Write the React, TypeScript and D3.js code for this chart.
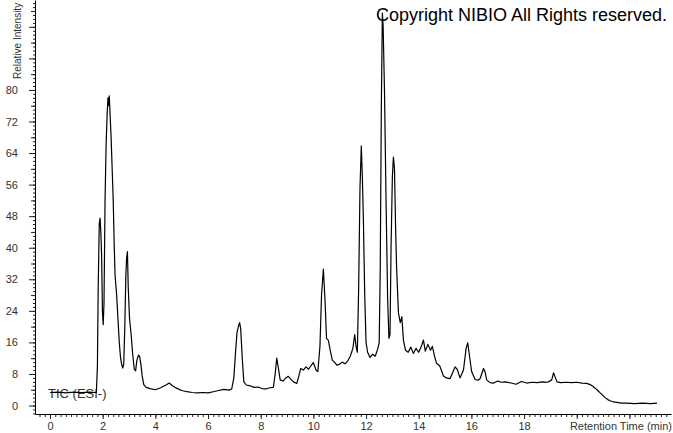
import React, { Component } from "react";
import * as d3 from "d3";

// retention time (min) and relative intensity
const times = [
  0.0, 0.3, 0.6, 0.9, 1.2, 1.5, 1.76, 1.8, 1.83, 1.87, 1.9, 1.93, 1.96, 1.99,
  2.02, 2.05, 2.09, 2.13, 2.17, 2.2, 2.22, 2.25, 2.28, 2.32, 2.36, 2.4, 2.44,
  2.47, 2.53, 2.58, 2.63, 2.68, 2.72, 2.76, 2.8, 2.84, 2.88, 2.91, 2.94, 2.97,
  3.02, 3.08, 3.14, 3.2, 3.25, 3.3, 3.36, 3.4, 3.45, 3.5, 3.56, 3.65, 3.8, 4.0,
  4.2, 4.4, 4.53, 4.65, 4.8, 5.0, 5.2, 5.4, 5.6, 5.8, 6.0, 6.2, 6.4, 6.6, 6.8,
  6.9, 6.98, 7.04, 7.1, 7.16, 7.2, 7.24, 7.3, 7.36, 7.45, 7.6, 7.75, 7.9, 8.05,
  8.2, 8.35, 8.48, 8.55, 8.61, 8.66, 8.74, 8.85, 8.95, 9.05, 9.15, 9.25, 9.37,
  9.45, 9.52, 9.62, 9.72, 9.82, 9.92, 10.0, 10.1, 10.17, 10.25, 10.31, 10.38,
  10.44, 10.5, 10.57, 10.64, 10.72, 10.8, 10.9, 11.0, 11.1, 11.2, 11.3, 11.4,
  11.5, 11.57, 11.62, 11.67, 11.72, 11.77, 11.82, 11.86, 11.9, 11.95, 12.0,
  12.06, 12.15, 12.25, 12.35, 12.45, 12.5, 12.54, 12.58, 12.62, 12.65, 12.7,
  12.76, 12.82, 12.87, 12.91, 12.95, 13.0, 13.04, 13.08, 13.12, 13.16, 13.23,
  13.3, 13.36, 13.42, 13.5, 13.6, 13.7, 13.8, 13.9, 14.0, 14.1, 14.18, 14.25,
  14.35, 14.45, 14.52, 14.6, 14.68, 14.8, 14.94, 15.05, 15.19, 15.3, 15.38,
  15.46, 15.57, 15.7, 15.8, 15.86, 15.92, 16.01, 16.14, 16.25, 16.33, 16.46,
  16.52, 16.58, 16.71, 16.85, 17.0, 17.15, 17.3, 17.5, 17.7, 17.9, 18.1, 18.3,
  18.5, 18.7, 18.9, 19.05, 19.12, 19.18, 19.25, 19.4, 19.6, 19.8, 20.0, 20.2,
  20.38, 20.51, 20.62, 20.7, 20.8, 20.89, 21.0, 21.08, 21.18, 21.27, 21.4,
  21.52, 21.7, 21.9, 22.2, 22.5, 22.8, 23.05,
];

const intensity = [
  3.3, 3.4, 3.2, 3.4, 3.3, 3.4, 3.3, 10, 30, 46, 47.5, 44, 38, 24, 20.5, 26, 52,
  66, 74, 78, 76, 78.5, 74, 68, 60, 52, 40, 33, 28, 22, 16, 12, 10.5, 9.5, 10.5,
  20, 33, 37.5, 39, 30, 22, 18, 13, 9.2, 8.8, 11.5, 12.8, 12.5, 10.5, 7.5, 5.3,
  4.6, 4.3, 4.0, 4.5, 5.2, 5.7, 5.0, 4.4, 3.8, 3.5, 3.3, 3.2, 3.3, 3.2, 3.5,
  3.8, 4.1, 3.9, 4.2, 7, 13, 18.5, 20.2, 21, 19.5, 12, 6, 5.2, 5.0, 4.6, 4.7,
  4.3, 4.2, 4.5, 4.6, 8, 12, 10, 6.5, 6.2, 7.0, 7.4, 6.6, 6.0, 5.6, 7.5, 9.4,
  9.0, 9.8, 9.2, 10.2, 10.9, 9.0, 8.6, 15, 28, 34.6, 27, 17, 16.5, 14, 11.5, 11,
  10.2, 10.5, 11, 10.6, 11.2, 12.5, 14.5, 18, 15, 13.5, 30, 55, 65.8, 58, 47,
  28, 16, 13.5, 12.2, 13.0, 12.5, 14.5, 16, 35, 75, 99.5, 96, 80, 52, 27, 17,
  18, 40, 58, 63, 60, 46, 35, 23.5, 21, 22.5, 16.5, 14, 13.5, 14.8, 13.2, 14.5,
  13.5, 15, 16.6, 13.8, 15.5, 14, 15, 12.5, 10.7, 10, 7.5, 7.0, 6.8, 8.5, 9.8,
  9.2, 7.0, 9.0, 14.5, 15.9, 13, 8.6, 6.6, 6.4, 6.8, 9.4, 8.5, 6.5, 5.8, 5.7,
  6.2, 5.9, 6.0, 5.7, 5.4, 6.1, 5.7, 5.9, 5.8, 6.0, 5.9, 6.5, 8.3, 7.2, 6.0,
  5.8, 5.9, 5.8, 5.9, 5.7, 5.6, 5.3, 4.8, 4.4, 3.8, 3.2, 2.5, 2.0, 1.5, 1.2,
  0.9, 0.8, 0.6, 0.6, 0.5, 0.6, 0.5, 0.6,
];

const xTicks = [0, 2, 4, 6, 8, 10, 12, 14, 16, 18, 20, 22];
const xLabels = ["0", "2", "4", "6", "8", "10", "12", "14", "16", "18", "", ""];
const yTicks = [0, 8, 16, 24, 32, 40, 48, 56, 64, 72, 80];

const FONT = "'Liberation Sans', Arial, sans-serif";

export default class App extends Component {
  canvasRef = React.createRef<SVGSVGElement>();

  render() {
    return (
      <svg
        ref={this.canvasRef}
        width={673}
        height={433}
        style={{ position: "absolute", left: 0, top: 0, background: "#fff" }}
      ></svg>
    );
  }

  componentDidMount() {
    this.drawChart();
  }

  drawChart() {
    const svg = d3.select(this.canvasRef.current);
    svg.selectAll("*").remove();

    /* Scales */
    const x = d3.scaleLinear().domain([-0.57, 23.58]).range([35, 671]);
    const y = d3.scaleLinear().domain([-2.15, 102.8]).range([414, 0]);

    // minor ticks first, majors on top
    const xMinor = d3.range(-0.4, 23.5, 0.2).map((d) => Math.round(d * 10) / 10);
    const yMinor = d3.range(-2, 103, 1);

    svg
      .append("g")
      .attr("transform", "translate(0,414)")
      .call(d3.axisBottom(x).tickValues(xMinor).tickSize(3).tickFormat(() => ""))
      .call((g) => g.select(".domain").remove());

    svg
      .append("g")
      .attr("transform", "translate(35,0)")
      .call(d3.axisLeft(y).tickValues(yMinor).tickSize(2).tickFormat(() => ""))
      .call((g) => g.select(".domain").remove());

    svg
      .append("g")
      .attr("transform", "translate(35,0)")
      .call(
        d3.axisLeft(y).tickValues(d3.range(4, 103, 8)).tickSize(4).tickFormat(() => "")
      )
      .call((g) => g.select(".domain").remove());

    const xAxisGroup = svg
      .append("g")
      .attr("transform", "translate(0,414)")
      .call(
        d3
          .axisBottom(x)
          .tickValues(xTicks)
          .tickSize(5)
          .tickSizeOuter(0)
          .tickPadding(3)
          .tickFormat((d, i) => xLabels[i])
      );

    const yAxisGroup = svg
      .append("g")
      .attr("transform", "translate(35,0)")
      .call(
        d3
          .axisLeft(y)
          .tickValues(yTicks.concat([88, 96]))
          .tickSize(6)
          .tickSizeOuter(0)
          .tickPadding(11)
          .tickFormat((d) => (+d <= 80 ? String(d) : ""))
      );

    [xAxisGroup, yAxisGroup].forEach((g) => {
      g.selectAll("text")
        .attr("font-family", FONT)
        .attr("font-size", 11)
        .attr("fill", "#333");
    });

    svg.selectAll("g line").attr("stroke", "#222");
    xAxisGroup.select(".domain").attr("stroke", "#000");
    yAxisGroup.select(".domain").attr("stroke", "#000");

    // axis titles
    svg
      .append("text")
      .attr("transform", "translate(21,79) rotate(-90)")
      .attr("font-family", FONT)
      .attr("font-size", 10)
      .attr("fill", "#333")
      .text("Relative Intensity");

    svg
      .append("text")
      .attr("x", 672)
      .attr("y", 430)
      .attr("text-anchor", "end")
      .attr("font-family", FONT)
      .attr("font-size", 11)
      .attr("fill", "#333")
      .text("Retention Time (min)");

    svg
      .append("text")
      .attr("x", 48)
      .attr("y", 398)
      .attr("font-family", FONT)
      .attr("font-size", 13)
      .attr("fill", "#333")
      .text("TIC (ESI-)");

    // D3 Line path Generator
    const line = d3
      .line<number>()
      .x((d, i) => x(times[i]))
      .y((d) => y(d));

    svg
      .append("path")
      .datum(intensity)
      .attr("fill", "none")
      .attr("stroke", "#000")
      .attr("stroke-width", 1.2)
      .attr("stroke-linejoin", "round")
      .attr("d", line);

    svg
      .append("text")
      .attr("x", 376)
      .attr("y", 20.5)
      .attr("font-family", FONT)
      .attr("font-size", 18)
      .attr("fill", "#000")
      .text("Copyright NIBIO All Rights reserved.");
  }
}
